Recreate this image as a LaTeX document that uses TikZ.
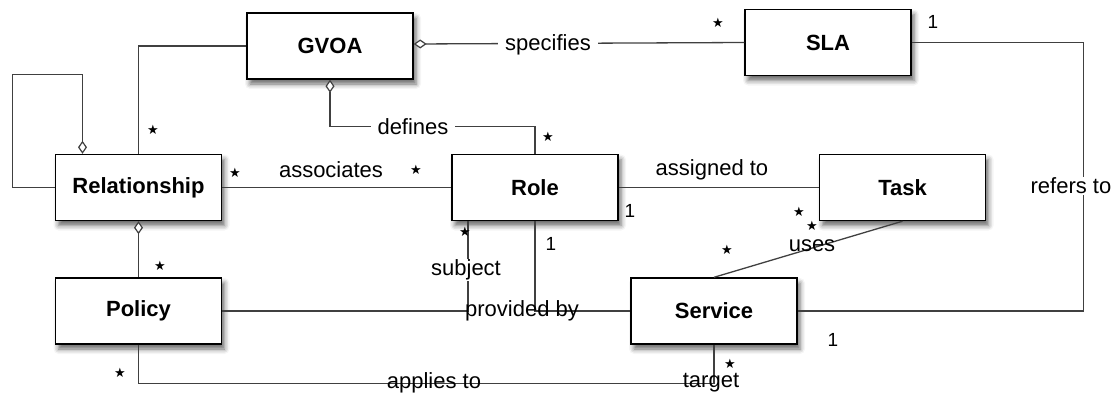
\documentclass[tikz,border=0pt]{standalone}
\usepackage{fontspec}
\setmainfont{Liberation Sans}
\newfontfamily\symfont{DejaVu Sans}
\usetikzlibrary{arrows.meta,shadows.blur,calc}

\begin{document}
\begin{tikzpicture}[x=1pt,y=-1pt,
  cls/.style={draw=black, line width=1.4pt, fill=white, minimum width=166pt, minimum height=66pt,
    font=\fontsize{22}{26}\selectfont\bfseries,
    blur shadow={shadow xshift=3pt, shadow yshift=-5pt, shadow blur radius=5pt, shadow opacity=60}},
  link/.style={draw=black!75, line width=1.3pt},
  agg/.style={link, {Diamond[open,fill=white,length=13pt,width=9pt,line width=1.2pt]}-},
  lbl/.style={font=\fontsize{22}{26}\selectfont, inner sep=1pt},
  cut/.style={lbl, fill=white, inner xsep=7pt},
  one/.style={font=\fontsize{19}{21}\selectfont, inner sep=0pt},
  many/.style={font=\symfont\fontsize{13}{13}\selectfont, inner sep=0pt},
]
\useasboundingbox (0,0) rectangle (1119,394);

% classes
\node[cls] (gvoa)  at (330,46)    {GVOA};
\node[cls] (sla)   at (828,42.5)  {SLA};
\node[cls] (rel)   at (138.5,187.5) {Relationship};
\node[cls] (role)  at (535,187.5) {Role};
\node[cls] (task)  at (902.5,187.5) {Task};
\node[cls] (pol)   at (138.5,311) {Policy};
\node[cls] (serv)  at (714,311)   {Service};

% associations
\draw[agg] ([xshift=-56pt]rel.north) -- ++(0,-79) -| ([xshift=-42pt]rel.west) -- (rel.west);
\draw[link] (rel.north) |- (gvoa.west);
\draw[agg] ([yshift=2pt]gvoa.east) -- (sla.west);
\draw[agg] (gvoa.south) |- ($(role.north)+(0,-27)$) -- (role.north);
\draw[link] (rel.east) -- (role.west);
\draw[link] (role.east) -- (task.west);
\draw[link] (task.south) -- (serv.north);
\draw[link] (sla.east) -- ++(172,0) |- (serv.east);
\draw[link] (pol.east) -| ([xshift=-67pt]role.south);
\draw[link] (role.south) |- (serv.west);
\draw[agg] (rel.south) -- (pol.north);
\draw[link] (pol.south) |- ($(serv.south)+(0,39)$) -- (serv.south);

% association names
\node[cut] (t-spec)  at (548,45)   {specifies};
\node[cut] (t-def)   at (413,127)  {defines};
\node[lbl] (t-assoc) at (331,170)  {associates};
\node[lbl] (t-asg)   at (712,170)  {assigned to};
\node[lbl] (t-uses)  at (812,246)  {uses};
\node[cut] (t-ref)   at (1071,186) {refers to};
\node[cut, inner xsep=2pt] (t-subj)  at (466,270)  {subject};
\node[lbl] (t-prov)  at (522,311)  {provided by};
\node[lbl] (t-app)   at (434,383)  {applies to};
\node[lbl] (t-tgt)   at (711,383)  {target};

% multiplicities
\node[many] (m1)  at (153,130) {★};
\node[many] (m2)  at (718,23)  {★};
\node[many] (m3)  at (548,137) {★};
\node[many] (m4)  at (235,173) {★};
\node[many] (m5)  at (416,170) {★};
\node[many] (m6)  at (799,212) {★};
\node[many] (m7)  at (812,226) {★};
\node[many] (m8)  at (727,250) {★};
\node[many] (m9)  at (465,232) {★};
\node[many] (m10) at (160,266) {★};
\node[many] (m11) at (120,373) {★};
\node[many] (m12) at (730,364) {★};
\node[one]  (o1)  at (933,22)  {1};
\node[one]  (o2)  at (630,211) {1};
\node[one]  (o3)  at (551,244) {1};
\node[one]  (o4)  at (833,340) {1};
\end{tikzpicture}
\end{document}
